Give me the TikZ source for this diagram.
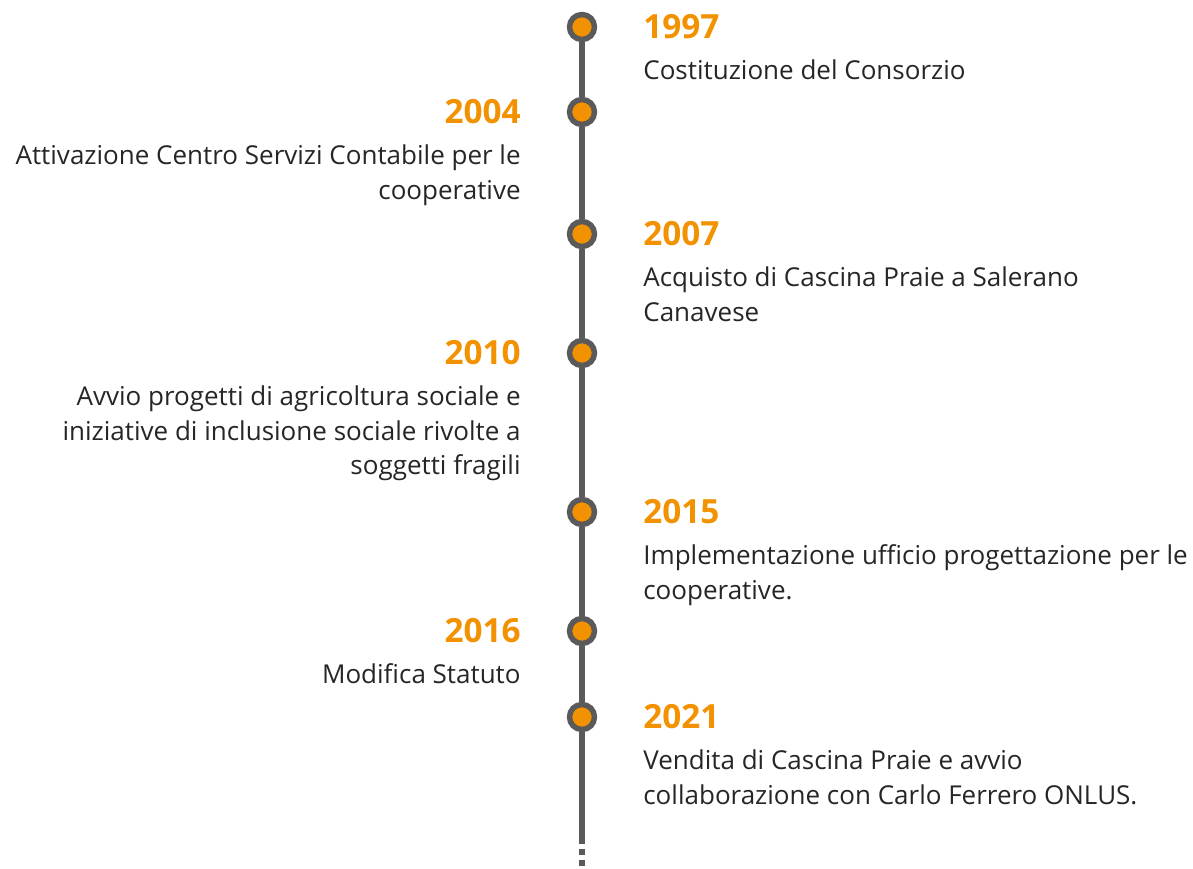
\documentclass[tikz,border=0pt]{standalone}
\usepackage{fontspec}
\setmainfont{Open Sans}
\usetikzlibrary{positioning}
\definecolor{tlorange}{HTML}{F39200}
\definecolor{tlgray}{HTML}{5A5A5A}
\definecolor{tltext}{HTML}{262626}

\begin{document}
\begin{tikzpicture}[
        x=0.75pt, y=-0.75pt,
        dot/.style={circle, draw=tlgray, fill=tlorange, line width=4.1pt,
          minimum size=18.75pt, inner sep=0pt},
        spine/.style={draw=tlgray, line width=4.1pt},
        year/.style={font=\fontsize{25}{30}\selectfont\bfseries, text=tlorange, inner sep=0pt},
        note/.style={font=\fontsize{19.5}{26}\selectfont, text=tltext, inner sep=0pt},
        ]
        \useasboundingbox (0,0) rectangle (1193,868);

        % dots on the time line
        \node[dot] (d1) at (582,27)  {};
        \node[dot] (d2) at (582,112) {};
        \node[dot] (d3) at (582,234) {};
        \node[dot] (d4) at (582,353) {};
        \node[dot] (d5) at (582,512) {};
        \node[dot] (d6) at (582,631) {};
        \node[dot] (d7) at (582,717) {};
        \coordinate (tail) at (582,838);
        \coordinate (open) at (582,868);

        \foreach \a/\b in {d1/d2, d2/d3, d3/d4, d4/d5, d5/d6, d6/d7, d7/tail}
          \draw[spine] (\a) -- (\b);
        \draw[spine, dash pattern=on 4.5pt off 3.75pt] (tail) -- (open);

        % right side
        \node[year, right=34.4pt of d1] (y1997) {1997};
        \node[note, below=15pt of y1997.south west, anchor=north west, align=left] (n1997)
          {Costituzione del Consorzio};
        \node[year, right=34.4pt of d3] (y2007) {2007};
        \node[note, below=15pt of y2007.south west, anchor=north west, align=left] (n2007)
          {Acquisto di Cascina Praie a Salerano\\Canavese};
        \node[year, right=34.4pt of d5] (y2015) {2015};
        \node[note, below=15pt of y2015.south west, anchor=north west, align=left] (n2015)
          {Implementazione ufficio progettazione per le\\cooperative.};
        \node[year, right=34.4pt of d7] (y2021) {2021};
        \node[note, below=15pt of y2021.south west, anchor=north west, align=left] (n2021)
          {Vendita di Cascina Praie e avvio\\collaborazione con Carlo Ferrero ONLUS.};

        % left side
        \node[year, left=34.4pt of d2] (y2004) {2004};
        \node[note, below=15pt of y2004.south east, anchor=north east, align=right] (n2004)
          {Attivazione Centro Servizi Contabile per le\\cooperative};
        \node[year, left=34.4pt of d4] (y2010) {2010};
        \node[note, below=15pt of y2010.south east, anchor=north east, align=right] (n2010)
          {Avvio progetti di agricoltura sociale e\\iniziative di inclusione sociale rivolte a\\soggetti fragili};
        \node[year, left=34.4pt of d6] (y2016) {2016};
        \node[note, below=15pt of y2016.south east, anchor=north east, align=right] (n2016)
          {Modifica Statuto};
\end{tikzpicture}
\end{document}
